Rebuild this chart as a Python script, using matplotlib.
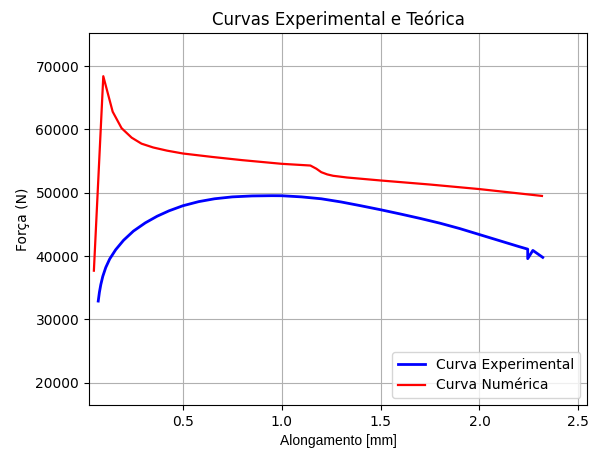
import matplotlib.pyplot as plt

# curva experimental
exp_along = [0.072, 0.078, 0.085, 0.095, 0.11, 0.13, 0.16, 0.20, 0.25, 0.31, 0.37, 0.43,
             0.50, 0.58, 0.66, 0.75, 0.85, 0.95, 1.0, 1.1, 1.2, 1.3, 1.4, 1.5, 1.6, 1.7,
             1.8, 1.9, 2.0, 2.1, 2.2, 2.244, 2.244, 2.27, 2.32]
exp_forca = [32900, 34300, 35500, 36800, 38200, 39550, 41000, 42500, 43950, 45250, 46300, 47150,
             47950, 48600, 49050, 49350, 49500, 49540, 49530, 49350, 49050, 48550, 47950, 47320, 46650, 45950,
             45200, 44350, 43400, 42450, 41500, 41100, 39600, 40900, 39800]

# curva numerica
num_along = [0.05, 0.0976, 0.145, 0.19, 0.241, 0.291, 0.35, 0.42, 0.50, 0.65, 0.80, 1.0,
             1.145, 1.175, 1.20, 1.23, 1.26, 1.33, 1.5, 1.75, 2.0, 2.316]
num_forca = [37700, 68400, 62800, 60200, 58700, 57750, 57150, 56650, 56200, 55650, 55150, 54570,
             54300, 53800, 53250, 52900, 52680, 52410, 51940, 51300, 50580, 49500]

fig = plt.figure(figsize=(5.89, 4.54), dpi=100)
ax = fig.add_axes([0.151, 0.108, 0.846, 0.819])
ax.plot(exp_along, exp_forca, label="Curva Experimental", color="blue", linewidth=2)
ax.plot(num_along, num_forca, label="Curva Numérica", color="red", linewidth=1.6)
ax.set_title("Curvas Experimental e Teórica")
ax.set_xlabel("Alongamento [mm]", family=["Liberation Sans Narrow", "Liberation Sans", "DejaVu Sans"])
ax.set_ylabel("Força (N)")
ax.set_xlim(0.025, 2.545)
ax.set_ylim(16500, 75200)
ax.set_xticks([0.5, 1.0, 1.5, 2.0, 2.5])
ax.set_yticks([20000, 30000, 40000, 50000, 60000, 70000])
ax.grid(True)
ax.legend(loc="lower right")
fig.savefig("out.png", dpi=100)
